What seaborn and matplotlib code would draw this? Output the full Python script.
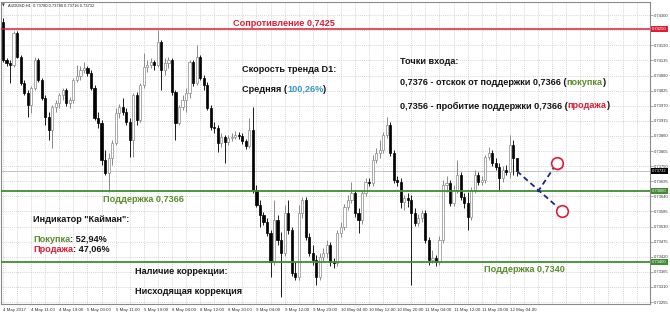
import matplotlib
matplotlib.use("Agg")
import matplotlib.pyplot as plt
from matplotlib import transforms
import pandas as pd
import seaborn as sns

# ---------------- data (AUDUSD H1) ----------------
chart_title = "AUDUSD,H1  0.73780 0.73780 0.73716 0.73732"

opens = [
    0.74275, 0.74137, 0.74126, 0.74118, 0.74235, 0.74148, 0.74053, 0.74016, 0.73973, 0.74035,
    0.74137, 0.74064, 0.73998, 0.73929, 0.73882, 0.73966, 0.73980, 0.74009, 0.74027, 0.73980,
    0.73991, 0.74064, 0.74078, 0.74100, 0.74108, 0.74089, 0.74035, 0.73925, 0.73907, 0.73773,
    0.73725, 0.73780, 0.73835, 0.73944, 0.73966, 0.73947, 0.73911, 0.73845, 0.74009, 0.73918,
    0.74046, 0.74111, 0.74118, 0.74129, 0.74118, 0.74202, 0.74100, 0.74126, 0.74137, 0.74020,
    0.73907, 0.73966, 0.73991, 0.74016, 0.74129, 0.74053, 0.74148, 0.74071, 0.74046, 0.73962,
    0.73893, 0.73889, 0.73835, 0.73856, 0.73838, 0.73853, 0.73856, 0.73864, 0.73860, 0.73842,
    0.73824, 0.73882, 0.73663, 0.73609, 0.73572, 0.73547, 0.73507, 0.73401, 0.73554, 0.73481,
    0.73434, 0.73580, 0.73518, 0.73361, 0.73347, 0.73580, 0.73627, 0.73492, 0.73434, 0.73409,
    0.73347, 0.73419, 0.73434, 0.73463, 0.73401, 0.73398, 0.73507, 0.73529, 0.73601, 0.73627,
    0.73652, 0.73580, 0.73554, 0.73652, 0.73693, 0.73689, 0.73773, 0.73798, 0.73809, 0.73864,
    0.73900, 0.73798, 0.73700, 0.73693, 0.73620, 0.73634, 0.73627, 0.73580, 0.73543, 0.73561,
    0.73580, 0.73481, 0.73409, 0.73416, 0.73401, 0.73481, 0.73682, 0.73689, 0.73616, 0.73663,
    0.73718, 0.73638, 0.73616, 0.73565, 0.73663, 0.73718, 0.73693, 0.73700, 0.73784, 0.73798,
    0.73762, 0.73747, 0.73707, 0.73736, 0.73729, 0.73827, 0.73780,
]
highs = [
    0.74290, 0.74144, 0.74137, 0.74242, 0.74242, 0.74155, 0.74064, 0.74027, 0.74042, 0.74148,
    0.74144, 0.74071, 0.74009, 0.73947, 0.73973, 0.73991, 0.74016, 0.74035, 0.74035, 0.74002,
    0.74071, 0.74118, 0.74115, 0.74129, 0.74115, 0.74100, 0.74046, 0.73947, 0.73918, 0.73809,
    0.73798, 0.73845, 0.73962, 0.73976, 0.73998, 0.73962, 0.73925, 0.74016, 0.74020, 0.74053,
    0.74162, 0.74137, 0.74144, 0.74137, 0.74246, 0.74209, 0.74144, 0.74148, 0.74144, 0.74027,
    0.73973, 0.74009, 0.74035, 0.74137, 0.74137, 0.74191, 0.74155, 0.74082, 0.74057, 0.73973,
    0.73911, 0.73900, 0.73871, 0.73864, 0.73864, 0.73871, 0.73878, 0.73874, 0.73871, 0.73849,
    0.73925, 0.73966, 0.73682, 0.73627, 0.73583, 0.73561, 0.73518, 0.73627, 0.73572, 0.73511,
    0.73609, 0.73627, 0.73529, 0.73401, 0.73609, 0.73638, 0.73638, 0.73507, 0.73463, 0.73427,
    0.73434, 0.73452, 0.73481, 0.73474, 0.73416, 0.73518, 0.73547, 0.73612, 0.73645, 0.73693,
    0.73663, 0.73598, 0.73663, 0.73707, 0.73707, 0.73791, 0.73816, 0.73845, 0.73874, 0.73929,
    0.73911, 0.73809, 0.73714, 0.73707, 0.73645, 0.73652, 0.73645, 0.73598, 0.73576, 0.73591,
    0.73591, 0.73492, 0.73445, 0.73427, 0.73496, 0.73700, 0.73714, 0.73700, 0.73682, 0.73773,
    0.73729, 0.73652, 0.73656, 0.73674, 0.73736, 0.73729, 0.73714, 0.73791, 0.73820, 0.73809,
    0.73780, 0.73762, 0.73751, 0.73754, 0.73864, 0.73845, 0.73780,
]
lows = [
    0.74129, 0.74115, 0.74053, 0.74111, 0.74144, 0.74046, 0.74009, 0.73929, 0.73944, 0.74027,
    0.74057, 0.73991, 0.73900, 0.73845, 0.73816, 0.73947, 0.73962, 0.73991, 0.73969, 0.73962,
    0.73980, 0.74057, 0.74064, 0.74089, 0.74078, 0.74027, 0.73918, 0.73889, 0.73754, 0.73718,
    0.73656, 0.73754, 0.73827, 0.73925, 0.73936, 0.73900, 0.73784, 0.73784, 0.73900, 0.73911,
    0.74035, 0.74093, 0.74108, 0.74100, 0.74111, 0.74027, 0.74082, 0.74108, 0.74009, 0.73845,
    0.73900, 0.73955, 0.73947, 0.73998, 0.74042, 0.74046, 0.74064, 0.74027, 0.73955, 0.73882,
    0.73871, 0.73802, 0.73820, 0.73762, 0.73827, 0.73842, 0.73849, 0.73849, 0.73831, 0.73813,
    0.73816, 0.73652, 0.73601, 0.73529, 0.73536, 0.73496, 0.73347, 0.73390, 0.73463, 0.73274,
    0.73423, 0.73503, 0.73350, 0.73336, 0.73336, 0.73561, 0.73481, 0.73423, 0.73390, 0.73318,
    0.73336, 0.73401, 0.73416, 0.73387, 0.73379, 0.73387, 0.73492, 0.73518, 0.73591, 0.73616,
    0.73565, 0.73507, 0.73540, 0.73642, 0.73678, 0.73678, 0.73762, 0.73780, 0.73798, 0.73853,
    0.73787, 0.73689, 0.73678, 0.73598, 0.73591, 0.73601, 0.73318, 0.73532, 0.73532, 0.73547,
    0.73470, 0.73390, 0.73398, 0.73387, 0.73390, 0.73470, 0.73656, 0.73605, 0.73605, 0.73652,
    0.73627, 0.73598, 0.73518, 0.73554, 0.73652, 0.73682, 0.73682, 0.73689, 0.73773, 0.73751,
    0.73736, 0.73663, 0.73693, 0.73718, 0.73707, 0.73718, 0.73716,
]
closes = [
    0.74137, 0.74126, 0.74118, 0.74235, 0.74148, 0.74053, 0.74016, 0.73973, 0.74035, 0.74137,
    0.74064, 0.73998, 0.73929, 0.73882, 0.73966, 0.73980, 0.74009, 0.74027, 0.73980, 0.73991,
    0.74064, 0.74078, 0.74100, 0.74108, 0.74089, 0.74035, 0.73925, 0.73907, 0.73773, 0.73725,
    0.73780, 0.73835, 0.73944, 0.73966, 0.73947, 0.73911, 0.73845, 0.74009, 0.73918, 0.74046,
    0.74111, 0.74118, 0.74129, 0.74118, 0.74202, 0.74100, 0.74126, 0.74137, 0.74020, 0.73907,
    0.73966, 0.73991, 0.74016, 0.74129, 0.74053, 0.74148, 0.74071, 0.74046, 0.73962, 0.73893,
    0.73889, 0.73835, 0.73856, 0.73838, 0.73853, 0.73856, 0.73864, 0.73860, 0.73842, 0.73824,
    0.73882, 0.73663, 0.73609, 0.73572, 0.73547, 0.73507, 0.73401, 0.73554, 0.73481, 0.73434,
    0.73580, 0.73518, 0.73361, 0.73347, 0.73580, 0.73627, 0.73492, 0.73434, 0.73409, 0.73347,
    0.73419, 0.73434, 0.73463, 0.73401, 0.73398, 0.73507, 0.73529, 0.73601, 0.73627, 0.73652,
    0.73580, 0.73554, 0.73652, 0.73693, 0.73689, 0.73773, 0.73798, 0.73809, 0.73864, 0.73900,
    0.73798, 0.73700, 0.73693, 0.73620, 0.73634, 0.73627, 0.73580, 0.73543, 0.73561, 0.73580,
    0.73481, 0.73409, 0.73416, 0.73401, 0.73481, 0.73682, 0.73689, 0.73616, 0.73663, 0.73718,
    0.73638, 0.73616, 0.73565, 0.73663, 0.73718, 0.73693, 0.73700, 0.73784, 0.73798, 0.73762,
    0.73747, 0.73707, 0.73736, 0.73729, 0.73827, 0.73780, 0.73732,
]

time_labels = ["4 May 2017", "4 May 11:00", "4 May 19:00", "5 May 03:00", "5 May 11:00",
               "5 May 19:00", "8 May 04:00", "8 May 12:00", "8 May 20:00", "9 May 04:00",
               "9 May 12:00", "9 May 20:00", "10 May 04:00", "10 May 12:00", "10 May 20:00",
               "11 May 04:00", "11 May 12:00", "11 May 20:00", "12 May 04:00"]
bars_per_label = 8
bars_per_grid = 4

price_ticks = [0.73255, 0.73310, 0.73365, 0.73420, 0.73475, 0.73530, 0.73585, 0.73640,
               0.73695, 0.73750, 0.73805, 0.73860, 0.73915, 0.73970, 0.74025, 0.74080,
               0.74135, 0.74190, 0.74245, 0.74300]
hidden_tick = 0.74245

resistance = 0.74250
support_hi = 0.73660
support_lo = 0.73400
bid = 0.73732

# projected paths (bar index, price)
proj_bar = [146, 158.7, 151.9, 157.3]
proj_price = [0.73732, 0.73588, 0.73656, 0.73760]
proj_leg = ["sell", "sell", "buy", "buy"]

# ---------------- styling ----------------
sns.set_theme(style="white")
plt.rcParams['font.family'] = ['Liberation Sans', 'DejaVu Sans']

RED = "#dd1f35"
GREEN = "#3f8c33"
GREEN_TXT = "#5a8d2b"
TEAL = "#3b97c6"
DARK = "#151515"
GRID = "#c9c9c9"
FRAME = "#8a8a8a"

W, H = 670, 315
fig = plt.figure(figsize=(W / 100, H / 100), dpi=100)
fig.patch.set_facecolor("white")
L_px, R_px, T_px, B_px = 1, 650, 2, 304
ax = fig.add_axes([L_px / W, 1 - B_px / H, (R_px - L_px) / W, (B_px - T_px) / H])
ax.set_facecolor("white")

bar_px, first_px = 3.52, 3.0
ax.set_xlim((L_px - first_px) / bar_px, (R_px - first_px) / bar_px)
ax.set_ylim(0.73248, 0.74348)

df = pd.DataFrame({"o": opens, "h": highs, "l": lows, "c": closes})
df["bar"] = range(len(df))
df["bull"] = df["c"] >= df["o"]
df["bottom"] = df[["o", "c"]].min(axis=1)
df["height"] = (df["c"] - df["o"]).abs().clip(lower=0.000012)

# grid + ticks
major = list(range(0, bars_per_label * len(time_labels), bars_per_label))
minor = list(range(0, 184, bars_per_grid))
ax.set_xticks(major)
ax.set_xticklabels(time_labels, ha="left")
ax.set_xticks(minor, minor=True)
ax.set_yticks(price_ticks)
ax.set_yticklabels(["" if abs(v - hidden_tick) < 1e-7 else f"{v:.5f}" for v in price_ticks])
ax.yaxis.tick_right()
ax.tick_params(axis="x", which="major", length=2, width=0.5, color=FRAME, labelsize=3.2,
               pad=1, labelcolor="#333333")
ax.tick_params(axis="x", which="minor", length=0)
ax.tick_params(axis="y", which="major", length=2, width=0.5, color=FRAME, labelsize=3.0,
               pad=1, labelcolor="#333333")
ax.grid(True, which="both", axis="x", color=GRID, lw=0.5, ls=(0, (1.5, 1.5)), zorder=0)
ax.grid(True, which="major", axis="y", color=GRID, lw=0.5, ls=(0, (1.5, 1.5)), zorder=0)
ax.set_axisbelow(True)
for s in ax.spines.values():
    s.set_color(FRAME)
    s.set_linewidth(0.8)
ax.set_xlabel("")
ax.set_ylabel("")

# bid line
ax.axhline(bid, color="#c4c4c4", lw=0.7, zorder=1)

# candles
bull = df[df["bull"]]
bear = df[~df["bull"]]
ax.vlines(bull["bar"], bull["l"], bull["h"], color="#8a8a8a", lw=0.7, zorder=3)
ax.vlines(bear["bar"], bear["l"], bear["h"], color="#1a1a1a", lw=0.7, zorder=3)
ax.bar(bull["bar"], bull["height"], bottom=bull["bottom"], width=0.62, color="white",
       edgecolor="#8a8a8a", linewidth=0.5, zorder=4)
ax.bar(bear["bar"], bear["height"], bottom=bear["bottom"], width=0.62, color="black",
       edgecolor="black", linewidth=0.5, zorder=4)

# levels
ax.axhline(resistance, color=RED, lw=1.1, zorder=5)
ax.axhline(support_hi, color=GREEN, lw=1.3, zorder=5)
ax.axhline(support_lo, color=GREEN, lw=1.3, zorder=5)

# projection (seaborn)
proj = pd.DataFrame({"bar": proj_bar, "price": proj_price, "leg": proj_leg})
sns.lineplot(data=proj, x="bar", y="price", units="leg", estimator=None, sort=False,
             color="#1c2585", lw=1.3, linestyle=(0, (3, 2)), legend=False, ax=ax, zorder=6)
ax.set_xlabel("")
ax.set_ylabel("")
ends = proj.groupby("leg").tail(1)
shadow = transforms.offset_copy(ax.transData, fig=fig, x=1.3, y=-1.3, units="dots")
ax.scatter(ends["bar"], ends["price"], s=70, facecolor="#b0b0b0", edgecolor="none",
           transform=shadow, zorder=7)
ax.scatter(ends["bar"], ends["price"], s=70, facecolor="white", edgecolor=RED,
           linewidths=1.2, zorder=8)

# price boxes on the right axis
trans = transforms.blended_transform_factory(ax.transAxes, ax.transData)
for val, col in [(resistance, RED), (support_hi, GREEN), (support_lo, GREEN), (bid, "black")]:
    ax.text(1.003, val, f"{val:.5f}", transform=trans, fontsize=3.0, color="white",
            va="center", ha="left", clip_on=False, zorder=10,
            bbox=dict(boxstyle="square,pad=0.25", fc=col, ec="none"))

# title
fig.text(2 / W, 1 - 5.7 / H, "\u25bc", fontsize=2.6, color="#333333", va="center",
         family="DejaVu Sans")
fig.text(8 / W, 1 - 5.7 / H, chart_title, fontsize=2.9, color="#222222", va="center")

renderer = fig.canvas.get_renderer()


def seg_text(x_px, y_px, parts, size=6.6):
    x = x_px
    for txt, col in parts:
        t = fig.text(x / W, 1 - y_px / H, txt, color=col, fontsize=size,
                     fontweight="bold", va="center", ha="left")
        x += t.get_window_extent(renderer=renderer).width


seg_text(233, 23, [("Сопротивление 0,7425", RED)])
seg_text(242, 70, [("Скорость тренда D1:", DARK)])
seg_text(242, 89, [("Средняя (", DARK), ("100,26%", TEAL), (")", DARK)])
seg_text(400, 62, [("Точки входа:", DARK)])
seg_text(400, 83, [("0,7376 - отскок от поддержки 0,7366 (", DARK), ("покупка", GREEN_TXT), (")", DARK)])
seg_text(400, 106, [("0,7356 - пробитие поддержки 0,7366 (", DARK), ("продажа", RED), (")", DARK)])
seg_text(103, 199, [("Поддержка 0,7366", GREEN_TXT)])
seg_text(33, 219, [("Индикатор \"Кайман\":", DARK)])
seg_text(33, 239, [("Покупка", GREEN_TXT), (": 52,94%", DARK)])
seg_text(33, 249, [("Продажа", RED), (": 47,06%", DARK)])
seg_text(135, 271, [("Наличие коррекции:", DARK)])
seg_text(135, 292, [("Нисходящая коррекция", DARK)])
seg_text(484, 269, [("Поддержка 0,7340", GREEN_TXT)])

fig.savefig("out.png", dpi=100, facecolor="white")
